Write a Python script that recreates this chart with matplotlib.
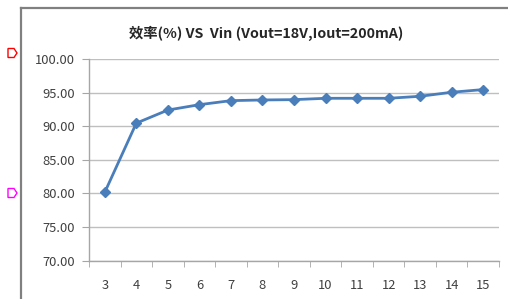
import matplotlib
matplotlib.use("Agg")
import matplotlib.pyplot as plt
from matplotlib.lines import Line2D
from matplotlib.patches import Polygon

plt.rcParams['font.family'] = ['Noto Sans CJK SC', 'DejaVu Sans']

# data
vin = [3, 4, 5, 6, 7, 8, 9, 10, 11, 12, 13, 14, 15]
eff = [80.15, 90.45, 92.4, 93.2, 93.8, 93.9, 93.95, 94.15, 94.15, 94.15, 94.45, 95.05, 95.45]
yticks = [70, 75, 80, 85, 90, 95, 100]
title = '效率(%) VS  Vin (Vout=18V,Iout=200mA)'

W, H = 508, 299
fig = plt.figure(figsize=(W / 100, H / 100), dpi=100)
ax = fig.add_axes([89 / W, (H - 260.5) / H, 410 / W, 201.5 / H])

xpos = list(range(len(vin)))
ax.plot(xpos, eff, color='#4A7EBB', lw=2.0, marker='D', ms=5.5,
        markerfacecolor='#4A7EBB', markeredgecolor='#4A7EBB', zorder=3)

ax.set_xlim(-0.5, len(vin) - 0.5)
ax.set_ylim(70, 100)
ax.set_yticks(yticks)
ax.set_yticklabels([f'{v:.2f}' for v in yticks])
ax.set_xticks(xpos)
ax.set_xticklabels([str(v) for v in vin])
ax.set_xticks([i - 0.5 for i in range(len(vin) + 1)], minor=True)

ax.grid(axis='y', color='#BFBFBF', lw=1.0)
ax.set_axisbelow(True)
for s in ['top', 'right']:
    ax.spines[s].set_visible(False)
for s in ['left', 'bottom']:
    ax.spines[s].set_color('#A6A6A6')
    ax.spines[s].set_linewidth(1.0)

ax.tick_params(axis='y', length=5, color='#A6A6A6', labelsize=9.3, labelcolor='#404040', pad=5)
ax.tick_params(axis='x', which='major', length=0, labelsize=9.3, labelcolor='#404040', pad=13)
ax.tick_params(axis='x', which='minor', length=4, color='#A6A6A6')

fig.text(266 / W, 1 - 33 / H, title, ha='center', va='center',
         fontsize=10.3, fontweight='bold', color='#262626')

# outer frame edges (left and top)
fig.add_artist(Line2D([21 / W, 21 / W], [0, 1 - 8 / H], color='#808080', lw=1.6))
fig.add_artist(Line2D([21 / W, 1], [1 - 8 / H, 1 - 8 / H], color='#808080', lw=1.6))

# small tag markers on the left edge
def tag(yc, col):
    pts = [(8, yc - 4.5), (14, yc - 4.5), (17, yc), (14, yc + 4.5), (8, yc + 4.5)]
    fig.add_artist(Polygon([(x / W, 1 - y / H) for x, y in pts], closed=True,
                           fill=False, edgecolor=col, lw=1.0, transform=fig.transFigure))

tag(53, '#FF0000')
tag(193, '#FF00FF')

fig.savefig('out.png', dpi=100, facecolor='white')
